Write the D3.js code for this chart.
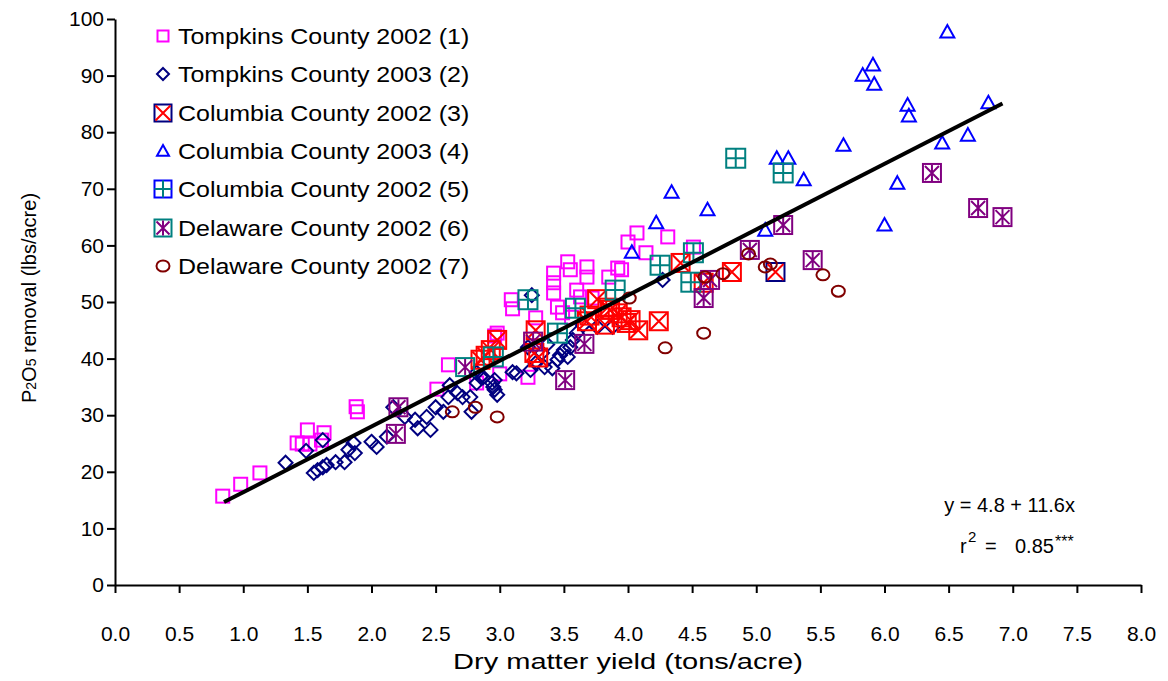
<!DOCTYPE html>
<html><head><meta charset="utf-8">
<script src="https://cdn.jsdelivr.net/npm/d3@7"></script>
<style>
body{margin:0;background:#fff;}
svg{display:block;font-family:"Liberation Sans",Arial,sans-serif;}
</style></head>
<body>
<svg id="chart" width="1168" height="681"></svg>
<script>
// ---- data ----
const xTicks = [0,0.5,1,1.5,2,2.5,3,3.5,4,4.5,5,5.5,6,6.5,7,7.5,8];
const yTicks = [0,10,20,30,40,50,60,70,80,90,100];
const seriesNames = ["Tompkins County 2002 (1)","Tompkins County 2003 (2)","Columbia County 2002 (3)","Columbia County 2003 (4)","Columbia County 2002 (5)","Delaware County 2002 (6)","Delaware County 2002 (7)"];

const tompkins2002 = [[0.84,15.7],[0.98,17.8],[1.13,19.8],[1.42,25.1],[1.46,24.9],[1.50,27.4],[1.52,24.9],[1.61,25.6],[1.63,26.9],[1.88,31.5],[1.89,30.6],
 [2.51,34.6],[2.60,38.9],[2.82,35.7],[2.96,44.0],[3.00,37.3],[3.22,36.7],[3.09,50.4],[3.10,48.8],[3.28,47.2],[3.42,55.1],[3.42,53.4],[3.42,51.6],
 [3.45,49.1],[3.49,48.1],[3.53,57.1],[3.55,55.7],[3.56,47.3],[3.60,52.1],[3.63,50.9],[3.68,56.2],[3.68,54.4],[3.72,50.7],[3.85,54.4],[3.92,56.0],
 [3.95,55.7],[4.00,60.6],[4.07,62.2],[4.14,58.7],[4.31,61.5],[4.51,59.7],[2.98,44.5]];
const tompkins2003 = [[1.33,21.6],[1.49,23.7],[1.62,25.6],[1.55,19.8],[1.58,20.3],[1.62,20.8],[1.65,21.2],[1.72,21.7],[1.79,21.7],[1.82,23.9],[1.86,25.1],[1.87,23.3],
 [2.00,25.3],[2.04,24.4],[2.12,26.2],[2.17,31.4],[2.26,29.7],[2.34,29.2],[2.36,27.7],[2.43,29.7],[2.46,27.4],[2.50,31.4],[2.56,30.6],[2.60,33.2],
 [2.61,35.3],[2.67,33.9],[2.71,33.2],[2.77,33.2],[2.78,30.6],[2.82,35.7],[2.87,36.7],[2.95,35.0],[2.96,36.2],[2.94,35.7],[2.96,34.5],[2.98,33.6],
 [3.10,37.6],[3.13,37.4],[3.24,38.0],[3.28,39.2],[3.33,41.0],[3.35,38.5],[3.41,38.3],[3.45,39.8],[3.47,40.6],[3.50,41.5],[3.53,40.3],[3.55,42.0],
 [3.57,43.3],[3.60,44.5],[3.65,45.9],[3.76,45.6],[2.82,37.5],[2.85,36.8],[3.25,51.2],[4.27,53.9],[3.88,45.6],[3.22,42.0],[3.37,42.5]];
const columbia2002a = [[2.85,39.8],[2.89,40.5],[2.98,43.3],[2.93,41.5],[3.28,45.0],[3.27,41.0],[3.30,40.2],[3.68,46.6],[3.70,47.6],[3.76,50.5],
 [3.82,46.0],[3.84,49.0],[3.86,48.6],[3.92,48.0],[3.95,47.3],[3.99,46.3],[4.02,46.8],[4.08,45.0],[4.24,46.6],[4.41,56.9],[4.59,53.4],[4.81,55.3]];
const columbia2002aNavy = [[5.15,55.3]];
const columbia2003 = [[4.03,58.8],[4.22,64.0],[4.34,69.4],[4.62,66.3],[5.07,62.7],[5.16,75.4],[5.25,75.4],[5.37,71.6],[5.68,77.7],[5.83,90.1],
 [5.91,91.9],[5.92,88.5],[6.00,63.6],[6.10,71.0],[6.18,84.8],[6.19,82.9],[6.45,78.1],[6.49,97.7],[6.65,79.5],[6.81,85.2]];
const columbia2002b = [[2.95,40.3],[3.22,50.4],[3.45,44.5],[3.59,48.9],[3.90,52.1],[4.25,56.5],[4.49,53.5],[4.51,58.7],[4.84,75.4],[5.21,72.8]];
const delaware2002a = [[2.19,26.7],[2.21,31.4],[3.26,43.0],[3.51,36.2],[3.66,42.6],[4.59,50.7],[4.64,53.9],[4.95,59.2],[5.21,63.6],[5.44,57.4],[6.37,72.8],[6.73,66.6],[6.92,65.0]];
const delaware2002aTeal = [[2.73,38.5]];
const delaware2002b = [[2.63,30.6],[2.81,31.4],[2.98,29.7],[4.01,50.7],[4.29,41.9],[4.59,44.5],[4.60,54.4],[4.74,55.0],[4.94,58.5],[5.07,56.2],[5.11,56.7],[5.52,54.8],[5.64,51.9]];
const regression = {a:4.8, b:11.6, xMin:0.85, xMax:6.92};

// ---- chart ----
const svg = d3.select("#chart");
const x = d3.scaleLinear().domain([0,8]).range([115,1141]);
const y = d3.scaleLinear().domain([0,100]).range([585,19]);

// axes
const yAxis = d3.axisLeft(y).tickValues(yTicks).tickSize(8).tickSizeOuter(0).tickPadding(3).tickFormat(d3.format("d"));
const gy = svg.append("g").attr("transform","translate(115,0)").call(yAxis);
const xAxis = d3.axisBottom(x).tickValues(xTicks).tickSize(8).tickSizeOuter(0).tickPadding(33).tickFormat(d3.format(".1f"));
const gx = svg.append("g").attr("transform","translate(0,585)").call(xAxis);
[gx,gy].forEach(g=>{
  g.select(".domain").attr("stroke","#000").attr("stroke-width",2);
  g.selectAll(".tick line").attr("stroke","#000").attr("stroke-width",2);
  g.selectAll(".tick text").attr("fill","#000").style("font-size","21px").style("font-family","'Liberation Sans',Arial,sans-serif");
});

// axis titles
svg.append("text").attr("x",453).attr("y",669)
  .attr("textLength",350).attr("lengthAdjust","spacingAndGlyphs")
  .style("font-size","22px").text("Dry matter yield (tons/acre)");
const yt = svg.append("text").attr("transform","translate(36,298) rotate(-90)").attr("text-anchor","middle").style("font-size","20px");
yt.append("tspan").text("P");
yt.append("tspan").style("font-size","14px").text("2");
yt.append("tspan").text("O");
yt.append("tspan").style("font-size","14px").text("5");
yt.append("tspan").text(" removal (lbs/acre)");

// marker drawers
function square(g, cx, cy, s, color, sw){
  g.append("rect").attr("x",cx-s/2).attr("y",cy-s/2).attr("width",s).attr("height",s)
   .attr("fill","none").attr("stroke",color).attr("stroke-width",sw);
}
function mSquare(g,cx,cy,s){ square(g,cx,cy,s||13,"#FF00FF",2); }
function mDiamond(g,cx,cy,s){ s=s||14; const h=s/2;
  g.append("path").attr("d",`M${cx},${cy-h}L${cx+h},${cy}L${cx},${cy+h}L${cx-h},${cy}Z`)
   .attr("fill","none").attr("stroke","#000080").attr("stroke-width",2); }
function mXBox(g,cx,cy,s,box){ s=s||18; const h=s/2-1;
  square(g,cx,cy,s,box||"#FF0000",2);
  g.append("path").attr("d",`M${cx-h},${cy-h}L${cx+h},${cy+h}M${cx+h},${cy-h}L${cx-h},${cy+h}`)
   .attr("stroke","#FF0000").attr("stroke-width",2); }
function mTriangle(g,cx,cy,s){ s=s||14; const h=s/2;
  g.append("path").attr("d",`M${cx},${cy-h}L${cx+h},${cy+h*0.8}L${cx-h},${cy+h*0.8}Z`)
   .attr("fill","none").attr("stroke","#0000FF").attr("stroke-width",2); }
function mPlusBox(g,cx,cy,s,box){ s=s||19; const h=s/2;
  square(g,cx,cy,s,box||"#008080",2);
  g.append("path").attr("d",`M${cx-h},${cy}L${cx+h},${cy}M${cx},${cy-h}L${cx},${cy+h}`)
   .attr("stroke","#008080").attr("stroke-width",2); }
function mStarBox(g,cx,cy,s,box){ s=s||18; const h=s/2-2;
  square(g,cx,cy,s,box||"#800080",2);
  g.append("path").attr("d",`M${cx-h},${cy-h}L${cx+h},${cy+h}M${cx+h},${cy-h}L${cx-h},${cy+h}M${cx},${cy-h-1}L${cx},${cy+h+1}`)
   .attr("stroke","#800080").attr("stroke-width",2); }
function mEllipse(g,cx,cy){
  g.append("ellipse").attr("cx",cx).attr("cy",cy).attr("rx",6.5).attr("ry",5.5)
   .attr("fill","none").attr("stroke","#800000").attr("stroke-width",2); }

const plot = svg.append("g");
function drawSeries(data, fn, extra){
  const g = plot.append("g");
  data.forEach(d=>fn(g, x(d[0]), y(d[1]), undefined, extra));
}
drawSeries(tompkins2002, mSquare);
drawSeries(tompkins2003, mDiamond);
drawSeries(columbia2002a, mXBox);
drawSeries(columbia2002aNavy, mXBox, "#000080");
drawSeries(columbia2003, mTriangle);
drawSeries(columbia2002b, mPlusBox);
drawSeries(delaware2002a, mStarBox);
drawSeries(delaware2002aTeal, mStarBox, "#008080");
drawSeries(delaware2002b, mEllipse);

// regression line
svg.append("line")
  .attr("x1",x(regression.xMin)).attr("y1",y(regression.a+regression.b*regression.xMin))
  .attr("x2",x(regression.xMax)).attr("y2",y(regression.a+regression.b*regression.xMax))
  .attr("stroke","#000").attr("stroke-width",4);

// equation
svg.append("text").attr("x",1075).attr("y",512).attr("text-anchor","end").style("font-size","20px").text("y = 4.8 + 11.6x");
const eq2 = svg.append("g").style("font-size","20px");
eq2.append("text").attr("x",960).attr("y",553).text("r");
eq2.append("text").attr("x",968).attr("y",542).style("font-size","15px").text("2");
eq2.append("text").attr("x",985).attr("y",553).text("=");
eq2.append("text").attr("x",1015).attr("y",553).text("0.85");
eq2.append("text").attr("x",1055).attr("y",547).style("font-size","16px").text("***");

// legend
const legY = [36,74,113,151,189,228,266];
const legFns = [
  (g,cx,cy)=>mSquare(g,cx,cy,11),
  (g,cx,cy)=>mDiamond(g,cx,cy,12),
  (g,cx,cy)=>mXBox(g,cx,cy,17,"#000080"),
  (g,cx,cy)=>mTriangle(g,cx,cy,12),
  (g,cx,cy)=>mPlusBox(g,cx,cy,17,"#0000FF"),
  (g,cx,cy)=>mStarBox(g,cx,cy,17,"#008080"),
  (g,cx,cy)=>mEllipse(g,cx,cy)
];
const leg = svg.append("g");
seriesNames.forEach((n,i)=>{
  legFns[i](leg,163,legY[i]);
  leg.append("text").attr("transform",`translate(178,${legY[i]+8}) scale(1.135,1)`)
    .style("font-size","22px").text(n);
});
</script>
</body></html>
